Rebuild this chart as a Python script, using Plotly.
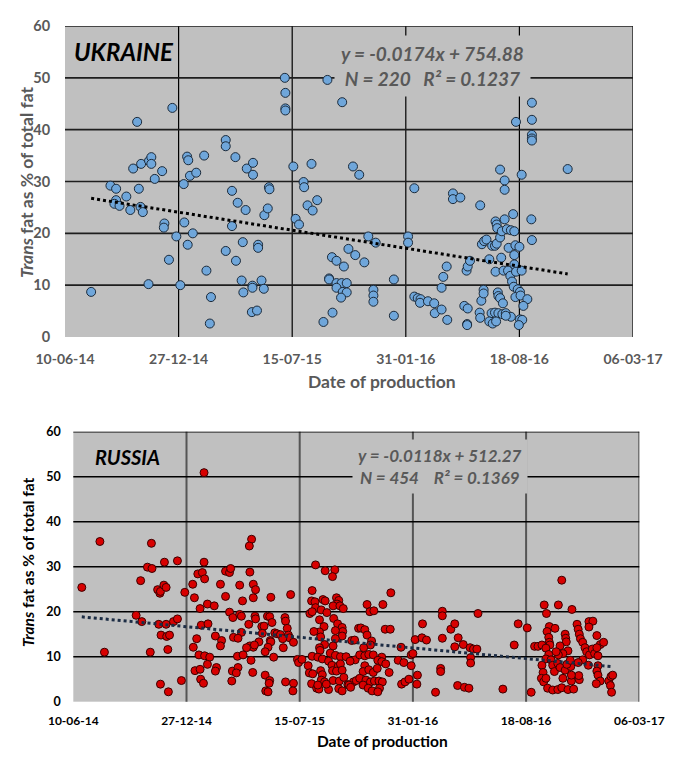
import pandas as pd
import plotly.graph_objects as go

# ---------------- data (days since 10-06-14, trans fat % of total fat) ----------------
ukr_days = [46,127,189,80,90,108,90,87,96,115,
            133,137,120,134,148,152,152,171,158,130,
            175,174,147,183,196,203,210,216,225,209,
            220,231,215,217,245,249,257,255,283,283,
            300,294,304,318,320,331,331,294,283,301,
            313,340,340,351,357,359,360,311,314,330,
            330,346,350,329,338,387,388,388,388,402,
            434,420,421,427,444,436,406,412,462,488,
            499,470,478,491,465,465,478,487,496,478,
            489,496,486,471,455,
            507,518,534,547,511,527,579,543,543,543,
            579,615,604,604,615,621,626,625,639,650,
            651,663,663,666,672,673,683,683,696,731,
            707,709,713,703,709,708,708,730,731,733,
            737,737,734,738,742,747,752,757,760,766,
            758,760,761,766,774,774,774,789,769,778,
            785,791,781,793,800,768,791,758,772,780,
            791,784,794,804,787,790,797,801,793,802,
            814,807,801,805,799,762,763,766,771,751,
            757,763,770,776,785,747,753,759,776,804,
            794,822,822,822,822,822,821,822,885]
ukr_pct = [8.7,41.5,44.2,29.2,28.6,27.1,26.4,25.7,25.3,24.5,
           25.1,24.1,32.5,33.4,34.0,34.7,33.4,32.0,30.5,28.6,
           21.9,21.1,10.2,14.9,19.4,10.0,22.1,17.8,20.0,29.5,
           31.1,31.7,34.8,34.1,35.0,12.8,7.7,2.6,38.0,36.8,
           34.7,28.2,25.9,24.5,32.5,33.6,31.3,21.4,16.6,14.7,
           18.3,17.8,17.2,23.5,24.8,28.9,28.5,10.9,8.6,9.9,
           9.5,10.9,9.3,4.8,5.1,50.0,47.1,44.1,43.7,32.9,
           33.4,29.9,28.9,25.4,26.4,24.4,22.8,21.7,49.6,45.3,
           17.0,15.4,14.7,13.6,11.3,11.1,10.4,10.4,10.4,9.5,
           8.7,8.6,7.6,4.7,2.9,
           32.9,31.3,19.4,18.2,15.8,14.4,11.1,9.1,8.0,6.8,
           4.1,28.7,19.4,18.2,7.8,7.5,7.3,6.6,6.9,6.5,
           4.6,5.3,9.5,11.6,13.6,3.3,27.7,26.6,26.9,25.4,
           12.8,13.6,14.7,6.0,5.5,2.5,2.3,4.7,3.7,7.0,
           9.1,8.4,17.9,18.5,18.8,15.0,17.6,17.6,18.0,19.2,
           22.3,21.7,21.0,32.3,30.2,28.4,22.7,23.7,20.4,20.8,
           20.6,20.4,17.2,17.7,17.4,15.3,15.8,12.6,12.8,12.8,
           14.0,11.8,12.6,12.8,10.7,9.7,9.2,8.7,7.7,8.0,
           7.3,6.0,3.4,3.3,2.3,8.6,7.9,7.5,6.5,4.6,
           4.7,4.6,4.4,4.6,3.9,3.0,2.6,3.0,4.1,31.3,
           41.5,45.2,41.9,39.0,38.3,37.9,22.7,18.7,32.4]

rus_days = [231,47,138,315,311,15,55,136,111,121,
            119,131,139,161,184,149,153,154,160,164,
            151,164,177,184,155,165,170,167,154,168,
            191,197,231,220,228,232,211,214,237,249,
            224,226,238,218,212,251,262,260,222,232,
            241,237,215,224,253,251,225,230,260,269,
            276,278,269,294,299,312,318,322,318,349,
            384,276,282,294,297,310,321,322,333,337,
            343,347,351,374,375,378,297,283,291,334,
            356,360,366,380,382,328,312,318,348,349,
            306,320,344,370,371,389,290,300,339,354,
            396,398,404,281,291,288,280,314,317,339,
            347,346,340,344,375,389,388,
            428,445,462,458,422,421,427,441,445,465,
            469,466,459,471,477,428,438,448,418,422,
            435,460,467,475,476,443,435,437,425,463,
            475,463,444,435,436,459,492,504,454,463,
            472,422,432,440,482,498,489,451,457,468,
            472,415,417,423,437,440,458,465,475,438,
            444,459,470,478,495,500,421,430,434,451,
            469,475,485,432,447,487,490,
            561,519,524,531,547,508,515,519,551,560,
            527,525,513,579,497,506,515,522,530,545,
            538,545,552,558,574,584,597,600,597,608,
            515,512,522,530,537,506,517,525,532,540,
            546,512,521,528,541,538,580,586,593,607,
            604,616,624,617,652,652,667,674,652,680,
            689,701,707,713,674,715,702,702,649,649,
            640,679,691,699,759,779,786,802,809,
            863,832,857,881,836,841,851,837,815,821,
            828,840,841,842,835,840,835,844,869,870,
            871,860,874,865,857,847,856,850,860,869,
            879,872,828,830,827,831,835,838,847,856,
            863,874,884,865,880,894,893,880,890,892,
            894,896,900,911,918,911,925,931,904,907,
            912,917,921,927,925,937,900,910,927,925,
            927,931,924,946,950,953,949,951,878,892,
            853]
rus_pct = [50.9,35.6,35.2,36.1,34.6,25.4,11.0,11.0,19.2,17.8,
           26.9,29.9,29.6,31.0,31.3,24.9,24.1,24.5,25.9,25.4,
           17.2,17.2,17.8,18.4,14.8,14.5,14.8,11.6,3.9,2.2,
           4.7,24.3,31.0,28.4,28.7,27.3,26.1,23.1,21.7,21.3,
           20.7,17.0,17.3,14.0,12.1,14.6,13.6,12.4,10.4,10.2,
           9.9,8.3,6.9,7.2,7.6,6.8,5.0,4.1,26.1,29.0,
           28.7,29.6,23.4,25.9,22.4,28.8,26.1,24.9,23.1,23.2,
           23.8,19.9,18.7,19.4,19.0,17.2,19.0,18.4,16.7,16.8,
           19.0,18.9,17.6,18.7,17.9,16.3,15.4,14.3,14.1,15.2,
           15.3,15.1,14.9,14.8,14.2,13.3,12.4,12.1,13.6,13.3,
           12.0,12.6,12.1,14.0,12.0,13.2,10.1,10.4,11.1,9.9,
           9.4,8.7,9.4,6.8,7.6,6.4,4.6,9.2,6.5,5.9,
           4.7,4.1,2.4,2.2,4.4,4.1,2.4,
           30.4,29.1,29.3,27.8,24.7,22.4,22.2,22.7,22.4,23.1,
           22.5,21.7,21.3,21.3,20.7,20.9,20.4,19.8,19.6,20.0,
           18.2,18.5,17.3,16.5,15.6,16.7,15.5,14.4,15.6,15.8,
           14.6,14.0,12.7,12.0,11.4,12.4,13.6,16.3,10.8,10.3,
           10.0,10.1,9.9,9.5,10.0,9.3,9.0,9.0,8.1,7.9,
           8.4,8.0,6.4,6.2,6.9,6.0,6.9,6.8,7.0,4.8,
           4.4,4.7,4.6,5.4,4.4,4.7,4.0,3.0,2.8,2.7,
           2.9,2.4,3.8,3.7,3.9,3.7,3.2,
           24.2,21.6,20.0,20.2,21.6,16.4,16.0,14.8,16.1,16.1,
           13.5,12.6,12.0,12.1,13.7,10.4,10.2,10.5,10.4,9.9,
           9.2,8.9,8.4,6.5,9.2,8.7,10.4,10.7,8.0,5.9,
           8.0,6.7,7.1,6.5,7.4,5.2,4.8,4.4,4.6,4.6,
           4.4,3.7,3.0,2.4,3.0,2.2,3.9,4.4,5.0,3.9,
           13.8,14.2,13.7,17.3,20.1,19.1,16.1,17.3,14.1,14.2,
           12.7,12.0,11.7,11.7,12.2,19.6,9.8,8.6,7.4,6.7,
           2.1,3.6,3.2,3.0,2.8,12.6,17.3,16.4,2.1,
           27.0,21.5,21.5,20.5,19.6,16.7,16.3,15.6,12.3,12.3,
           12.6,14.3,13.2,12.6,11.9,10.5,9.5,9.3,15.0,14.1,
           13.3,12.4,11.3,10.7,10.4,8.1,8.5,6.7,7.6,7.0,
           7.8,8.3,8.1,6.5,5.2,4.4,5.2,3.0,2.6,2.7,
           3.1,2.7,2.8,5.2,4.6,4.9,5.8,5.9,17.2,16.1,
           15.0,14.0,13.2,17.8,17.9,16.6,14.7,12.7,12.0,11.1,
           10.4,11.7,10.7,10.2,12.0,13.2,9.3,8.1,8.0,6.8,
           5.9,4.6,4.0,4.6,5.6,5.9,3.6,2.1,9.2,8.7,
           11.1]

# Excel-serial trend lines printed on the chart
ukr_slope, ukr_intercept = -0.0174, 754.88
rus_slope, rus_intercept = -0.0118, 512.27
ukr_eq = ["y = -0.0174x + 754.88", "N = 220\u00a0\u00a0\u00a0R² = 0.1237"]
rus_eq = ["y = -0.0118x + 512.27", "N = 454\u00a0\u00a0\u00a0\u00a0R² = 0.1369"]
tick_dates = ["2014-06-10", "2014-12-27", "2015-07-15", "2016-01-31", "2016-08-18", "2017-03-06"]
y_ticks = [0, 10, 20, 30, 40, 50, 60]

BASE = pd.Timestamp("2014-06-10")
BASE_SERIAL = 41800
assert len(ukr_days) == len(ukr_pct) and len(rus_days) == len(rus_pct)

def to_dates(days):
    return BASE + pd.to_timedelta(pd.Series(days, dtype=float), unit="D")

def trend(days, slope, intercept):
    d = [min(days), max(days)]
    return to_dates(d), [slope * (BASE_SERIAL + v) + intercept for v in d]

FONT = "Lato"
OFF = 8                      # page body margin in the browser
W, H = 678 - OFF, 758 - OFF
def px(x): return (x - OFF) / W
def py(y): return 1 - (y - OFF) / H

fig = go.Figure()
fig.add_trace(go.Scatter(x=to_dates(ukr_days), y=ukr_pct, mode="markers", xaxis="x", yaxis="y",
                         marker=dict(size=9, color="#6FA6DA", line=dict(color="#1B2A3A", width=1)),
                         showlegend=False))
tx, ty = trend(ukr_days, ukr_slope, ukr_intercept)
fig.add_trace(go.Scatter(x=tx, y=ty, mode="lines", xaxis="x", yaxis="y",
                         line=dict(color="black", width=3, dash="dot"), showlegend=False))
fig.add_trace(go.Scatter(x=to_dates(rus_days), y=rus_pct, mode="markers", xaxis="x2", yaxis="y2",
                         marker=dict(size=8, color="#D80000", line=dict(color="#3A0000", width=1)),
                         showlegend=False))
tx, ty = trend(rus_days, rus_slope, rus_intercept)
fig.add_trace(go.Scatter(x=tx, y=ty, mode="lines", xaxis="x2", yaxis="y2",
                         line=dict(color="#1C2C44", width=3, dash="dot"), showlegend=False))

common_x = dict(type="date", range=[tick_dates[0], tick_dates[-1]], tickmode="array",
                tickvals=tick_dates, tickformat="%d-%m-%y", showline=False, zeroline=False,
                showgrid=False, ticks="outside", tickcolor="rgba(0,0,0,0)", automargin=False)
common_y = dict(range=[0, 60], tickmode="array", tickvals=y_ticks, showline=False,
                zeroline=False, showgrid=False, ticks="outside", tickcolor="rgba(0,0,0,0)",
                automargin=False)

fig.update_layout(
    width=W, height=H, margin=dict(l=0, r=0, t=0, b=0, pad=0, autoexpand=False),
    paper_bgcolor="white", plot_bgcolor="#C0C0C0",
    font=dict(family=FONT),
    xaxis=dict(common_x, domain=[px(65), px(633)], anchor="y", ticklen=9,
               tickfont=dict(family=FONT, size=14, color="#595959", weight="bold")),
    yaxis=dict(common_y, domain=[py(337), py(26)], anchor="x", ticklen=11,
               tickfont=dict(family=FONT, size=14.5, color="#595959", weight="bold")),
    xaxis2=dict(common_x, domain=[px(73.3), px(639.3)], anchor="y2", ticklen=8,
                tickfont=dict(family=FONT, size=12, color="black", weight="bold")),
    yaxis2=dict(common_y, domain=[py(701.7), py(431.7)], anchor="x2", ticklen=9,
                tickfont=dict(family=FONT, size=12.5, color="black", weight="bold")),
)

# Gridlines (Excel style: none along the bottom/left axes)
shapes = []
for xa, ya, vcol, vw, hcol, hw in [("x", "y", "black", 1.2, "#1E1E1E", 1.6),
                                   ("x2", "y2", "#555555", 2, "black", 1.6)]:
    for t in tick_dates[1:]:
        shapes.append(dict(type="line", xref=xa, yref=ya + " domain", x0=t, x1=t, y0=0, y1=1,
                           line=dict(color=vcol, width=vw), layer="below"))
    for v in y_ticks[1:]:
        shapes.append(dict(type="line", xref=xa + " domain", yref=ya, x0=0, x1=1, y0=v, y1=v,
                           line=dict(color=hcol, width=hw), layer="below"))
fig.update_layout(shapes=shapes)

# Plot-area annotations and titles
ann = [
    dict(text="<b><i>UKRAINE</i></b>", x=px(124), y=py(51), font=dict(size=24, color="black")),
    dict(text="<b><i>" + ukr_eq[0] + "<br>" + ukr_eq[1] + "</i></b>", x=px(432), y=py(66),
         font=dict(size=19, color="#595959"), bgcolor="#C0C0C0", borderpad=6),
    dict(text="<b><i>RUSSIA</i></b>", x=px(127), y=py(457), font=dict(size=20, color="black")),
    dict(text="<b><i>" + rus_eq[0] + "<br>" + rus_eq[1] + "</i></b>", x=px(440), y=py(466),
         font=dict(size=17, color="#595959"), bgcolor="#C0C0C0", borderpad=5),
    dict(text="<b><i>Trans</i> fat as % of total fat</b>", x=px(26), y=py(182), textangle=-90,
         font=dict(size=17.5, color="#595959")),
    dict(text="<b><i>Trans</i> fat as % of total fat</b>", x=px(28), y=py(563), textangle=-90,
         font=dict(size=15.5, color="black")),
    dict(text="<b>Date of production</b>", x=px(382), y=py(381), font=dict(size=17.5, color="#595959")),
    dict(text="<b>Date of production</b>", x=px(382), y=py(741), font=dict(size=15.5, color="black")),
]
for a in ann:
    a.update(xref="paper", yref="paper", showarrow=False, xanchor="center", yanchor="middle")
    a["font"]["family"] = FONT
fig.update_layout(annotations=ann)

fig.write_html("out.html")
